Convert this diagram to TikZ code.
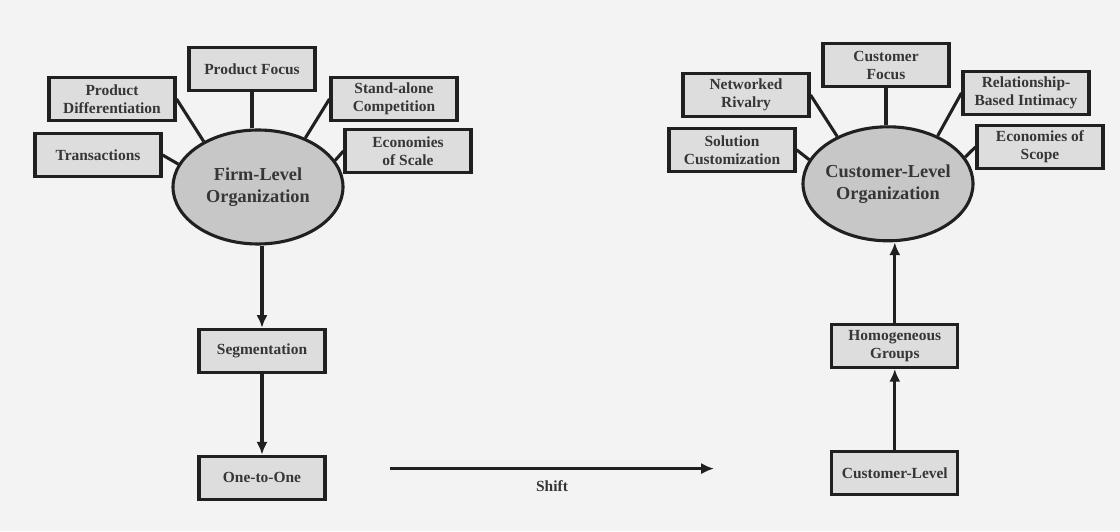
\documentclass[tikz,border=0pt]{standalone}
\definecolor{paper}{RGB}{243,243,243}
\definecolor{boxgray}{RGB}{221,221,221}
\definecolor{hubgray}{RGB}{199,199,199}
\definecolor{ink}{RGB}{32,32,32}
\usepackage{fontspec}
\setmainfont{Liberation Serif}
\usepackage{tikz}
\usetikzlibrary{shapes.geometric,arrows.meta}

\begin{document}
\begin{tikzpicture}[
    factor/.style={draw=ink, fill=boxgray, line width=2.2pt, minimum width=3.15cm, minimum height=1.08cm, inner sep=1pt, align=center, font=\fontsize{11}{12.8}\selectfont\bfseries, text=ink!90},
    hub/.style={ellipse, draw=ink, fill=hubgray, line width=2.2pt, minimum width=4.25cm, minimum height=2.85cm, inner xsep=-3pt, inner ysep=0pt, align=center, font=\fontsize{13}{15.6}\selectfont\bfseries, text=ink!90},
    spoke/.style={ink, line width=2.2pt},
    flow/.style={ink, line width=2.2pt, -{Latex[length=3.2mm,width=2.8mm]}}
]
    \fill[paper] (0,0) rectangle (28,13.275);
    \useasboundingbox (0,0) rectangle (28,13.275);

    \node[hub] (firm) at (6.45,8.6) {Firm-Level\\Organization};
    \node[factor] (pf) at (6.3,11.55) {Product Focus};
    \node[factor] (pd) at (2.8,10.8) {Product\\Differentiation};
    \node[factor] (tr) at (2.45,9.4) {Transactions};
    \node[factor] (sa) at (9.85,10.8) {Stand-alone\\Competition};
    \node[factor] (es) at (10.2,9.5) {Economies\\of Scale};
    \node[factor] (seg) at (6.55,4.5) {Segmentation};
    \node[factor] (oto) at (6.55,1.33) {One-to-One};

    \node[hub] (cust) at (22.2,8.68) {Customer-Level\\Organization};
    \node[factor] (cf) at (22.15,11.65) {Customer\\Focus};
    \node[factor] (nr) at (18.65,10.9) {Networked\\Rivalry};
    \node[factor] (sc) at (18.3,9.53) {Solution\\Customization};
    \node[factor] (ri) at (25.65,10.95) {Relationship-\\Based Intimacy};
    \node[factor] (eo) at (26.0,9.6) {Economies of\\Scope};
    \node[factor] (hg) at (22.37,4.63) {Homogeneous\\Groups};
    \node[factor] (cl) at (22.37,1.45) {Customer-Level};

    \draw[spoke] (pf.south) -- (pf.south |- firm.north);
    \draw[spoke] (pd.east) -- (firm.140);
    \draw[spoke] (tr.east) -- (firm.164);
    \draw[spoke] (sa.west) -- (firm.46);
    \draw[spoke] (es.west) -- (firm.19);

    \draw[spoke] (cf.south) -- (cf.south |- cust.north);
    \draw[spoke] (nr.east) -- (cust.137);
    \draw[spoke] (sc.east) -- (cust.163);
    \draw[spoke] (ri.west) -- (cust.44);
    \draw[spoke] (eo.west) -- (cust.19);

    \draw[flow] (firm.south -| seg.north) -- (seg.north);
    \draw[flow] (seg.south) -- (oto.north);
    \draw[flow] (cl.north) -- (hg.south);
    \draw[flow] (hg.north) -- (hg.north |- cust.south);

    \coordinate (shiftfrom) at (9.75,1.56);
    \coordinate (shiftto) at (17.85,1.56);
    \draw[flow] (shiftfrom) -- (shiftto) node[midway, below=4pt, font=\fontsize{11}{12.8}\selectfont\bfseries, text=ink!90] (shift) {Shift};
\end{tikzpicture}
\end{document}
